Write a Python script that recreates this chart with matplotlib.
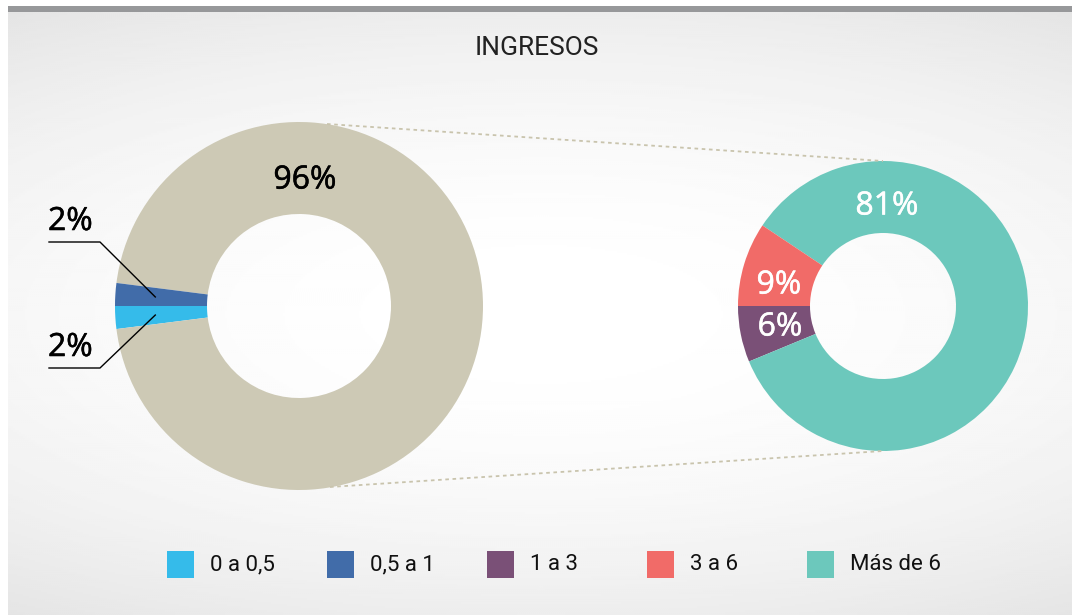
import numpy as np
import matplotlib.pyplot as plt
import matplotlib.patheffects as pe
from matplotlib.patches import Rectangle

# data
categories = ['0 a 0,5', '0,5 a 1', '1 a 3', '3 a 6', 'Más de 6']
colors = ['#35bbea', '#416ca9', '#7a5077', '#f16b68', '#6cc8bc']
beige = '#cdc9b5'

left_values = [2, 96, 2]          # 0 a 0,5 / resto / 0,5 a 1
left_labels = ['2%', '96%', '2%']
right_values = [6, 81, 9]         # 1 a 3 / Más de 6 / 3 a 6
right_labels = ['6%', '81%', '9%']

W, H = 1072, 615
fig = plt.figure(figsize=(W / 100, H / 100), dpi=100, facecolor='white')

# background panel with soft gradient
bg = fig.add_axes([0, 0, 1, 1])
bg.set_xlim(0, W)
bg.set_ylim(0, H)
bg.axis('off')
yy, xx = np.mgrid[0:603:2, 8:W:2]
r2 = ((xx - 540) / 800.0) ** 2 + ((yy - 300) / 310.0) ** 2
grad = 1 - 0.075 * r2
bg.imshow(grad, extent=[8, W, 0, 603], origin='lower', cmap='gray', vmin=0, vmax=1,
          aspect='auto', interpolation='bilinear', zorder=0)
bg.add_patch(Rectangle((8, 603), W - 8, 6, color='#97989a', lw=0, zorder=1))

ax = fig.add_axes([0, 0, 1, 1])
ax.patch.set_alpha(0)

# left donut
lw_, _ = ax.pie(left_values, colors=[colors[0], beige, colors[1]], startangle=180,
                center=(299, 309), radius=184, frame=True,
                wedgeprops=dict(width=92, linewidth=0))
# right donut
rw_, _ = ax.pie(right_values, colors=[colors[2], colors[4], colors[3]], startangle=180,
                center=(883, 309), radius=145, frame=True,
                wedgeprops=dict(width=72, linewidth=0))

ax.set_xlim(0, W)
ax.set_ylim(0, H)
ax.set_aspect('auto')
ax.axis('off')


def pct_text(x, y, s, col, **kw):
    t = ax.text(x, y, s, color=col, family=['Open Sans', 'DejaVu Sans'], fontsize=23, **kw)
    t.set_path_effects([pe.withStroke(linewidth=0.4, foreground=col)])
    return t


# connector lines between donuts
ax.plot([327, 883], [491, 454], ls=(0, (2, 2)), color='#c9c4ad', lw=1.3)
ax.plot([330, 883], [128, 164], ls=(0, (2, 2)), color='#c9c4ad', lw=1.3)

# left labels
pct_text(305, 435, left_labels[1], 'black', ha='center', va='center')
for w, lab, ytxt in [(lw_[2], left_labels[2], 373), (lw_[0], left_labels[0], 247)]:
    mid = np.deg2rad((w.theta1 + w.theta2) / 2)
    px = 299 + 144 * np.cos(mid)
    py = 309 + 144 * np.sin(mid)
    ax.plot([49, 100, px], [ytxt, ytxt, py], color='black', lw=1)
    pct_text(48, ytxt + 4, lab, 'black', ha='left', va='bottom')

# right labels
pct_text(887, 409, right_labels[1], 'white', ha='center', va='center')
pct_text(779, 330, right_labels[2], 'white', ha='center', va='center')
pct_text(780, 288, right_labels[0], 'white', ha='center', va='center')

# title
ax.text(537, 567, 'INGRESOS', ha='center', va='center', color='#222222',
        family=['Roboto', 'DejaVu Sans'], fontweight='normal', fontsize=19)

# legend
for i, (cat, col) in enumerate(zip(categories, colors)):
    x0 = 167 + i * 160
    ax.add_patch(Rectangle((x0, 37), 27, 27, color=col, lw=0))
    ax.text(x0 + 43, 50, cat, ha='left', va='center', color='#111111',
            family=['Roboto', 'DejaVu Sans'], fontsize=16)

fig.savefig('out.png', dpi=100, facecolor='white')
